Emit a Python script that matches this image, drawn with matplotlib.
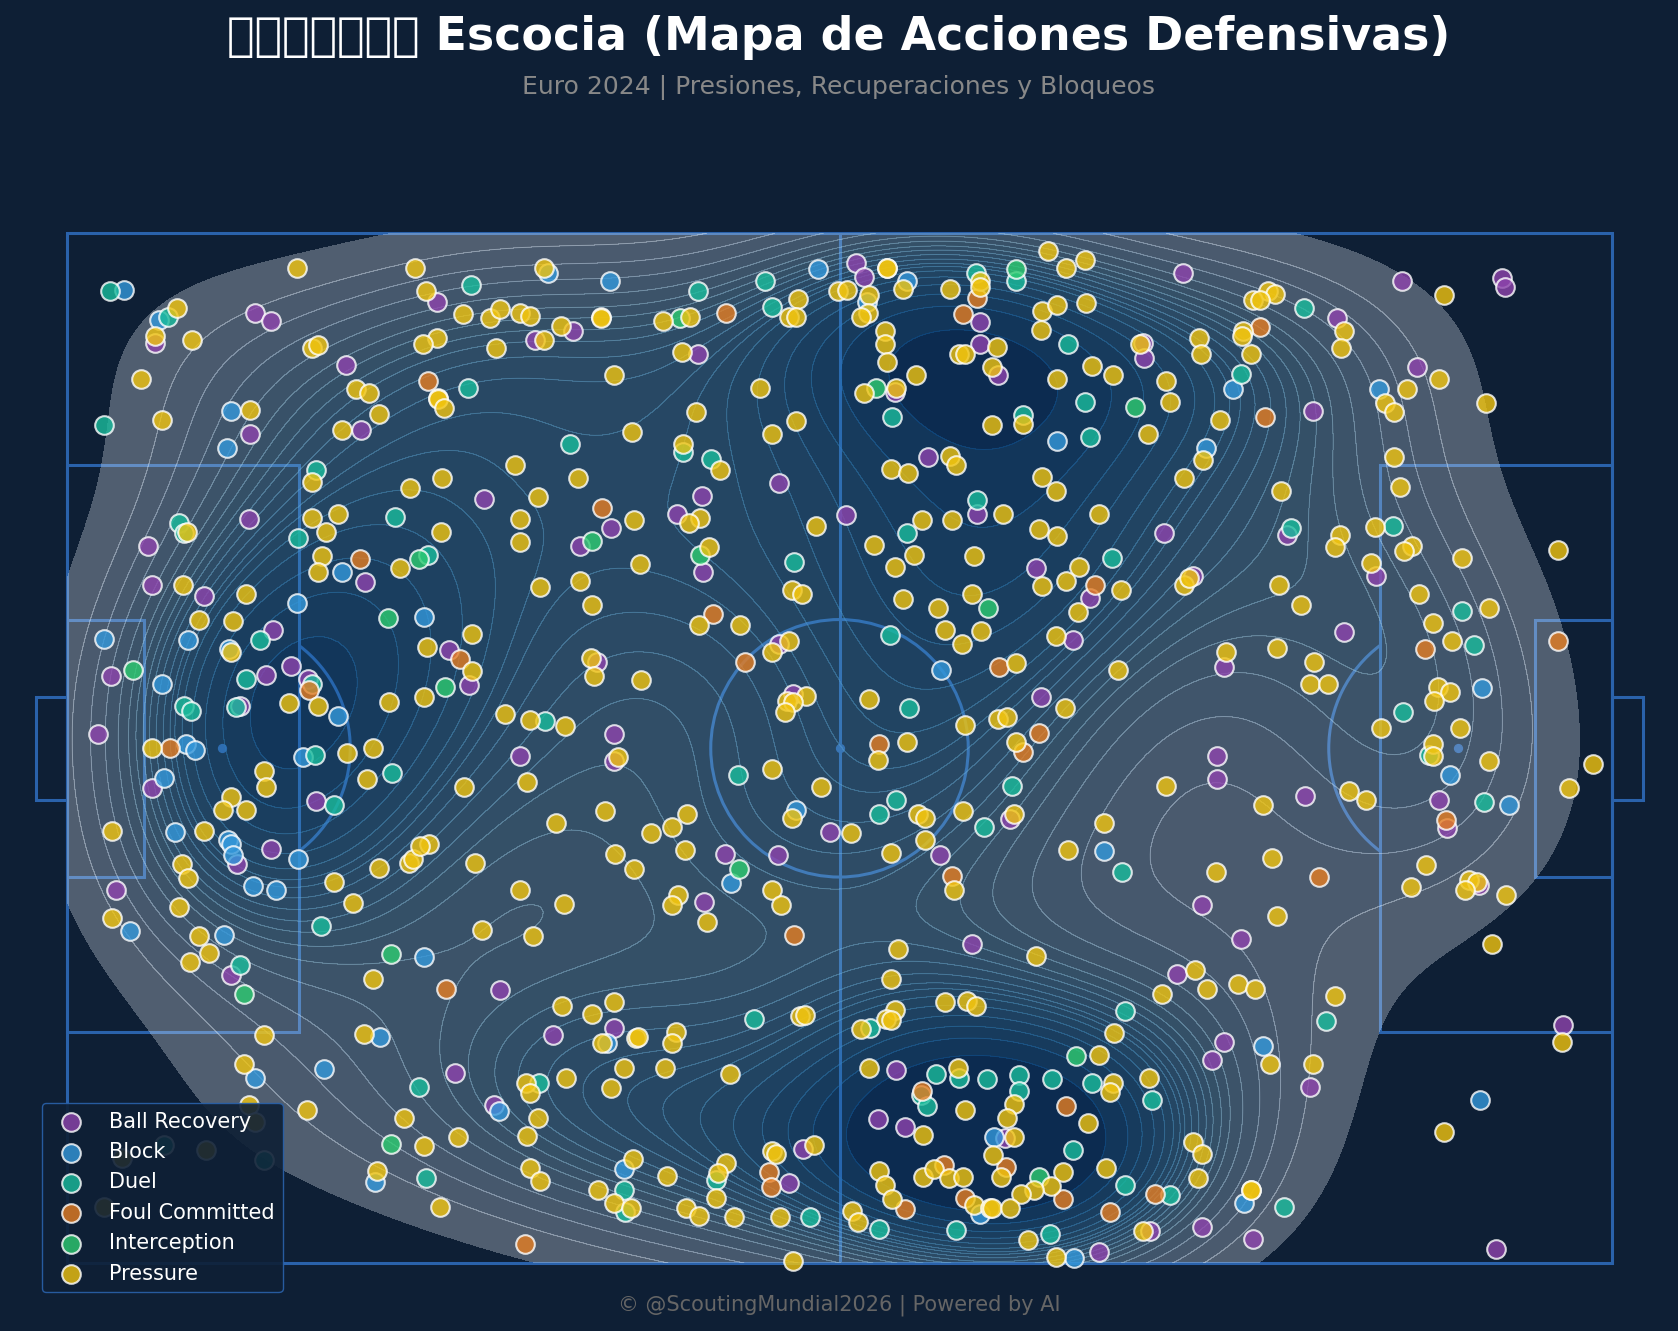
import numpy as np
import matplotlib
matplotlib.use("Agg")
import matplotlib.pyplot as plt
from matplotlib.patches import Arc, Circle, Rectangle

# defensive actions in pitch yards (120 x 80), x then y
ball_recovery = [(6.8,8.5),(14.6,6.2),(15.8,6.8),(28.7,5.3),(21.6,10.2),(22.8,15.3),(14.2,15.6),(36.3,8.3),(39.2,7.6),(48.9,9.4),
    (61.2,2.3),(61.8,3.4),(64.2,12.3),(70.8,6.9),(70.8,8.6),(72.2,11.0),(86.5,3.1),(83.4,8.5),(83.5,9.7),(103.5,3.7),
    (111.3,3.5),(111.5,4.2),(98.5,6.6),(104.7,10.4),(96.6,13.8),(66.8,17.4),(55.2,19.4),(49.2,20.4),(47.3,21.8),(42.2,22.9),
    (39.8,24.3),(32.3,20.6),(14.1,22.2),(6.3,24.3),(6.6,27.3),(10.6,28.2),(23.1,27.1),(16.0,30.8),(17.4,33.6),(15.4,34.3),
    (18.7,34.6),(13.4,36.7),(2.4,38.9),(3.4,34.4),(29.6,32.4),(31.2,35.1),(41.1,33.3),(49.3,26.3),(60.4,21.9),(70.6,21.8),
    (75.1,26.0),(79.3,28.3),(78.0,31.6),(85.1,23.3),(87.3,26.6),(94.6,23.4),(101.5,26.6),(99.0,31.0),(89.7,33.7),(75.5,36.0),
    (55.2,31.9),(56.3,35.8),(42.4,38.9),(42.4,41.0),(35.1,40.6),(89.2,40.6),(89.2,42.4),(96.0,43.7),(106.4,44.0),(107.0,46.2),
    (109.5,50.6),(73.1,45.5),(67.7,48.3),(59.2,46.5),(55.1,48.3),(51.0,48.2),(49.4,51.9),(6.6,43.1),(19.3,44.1),(15.8,47.8),
    (13.2,49.0),(3.8,51.0),(12.7,57.6),(33.6,58.8),(70.2,55.2),(91.0,54.8),(88.0,52.2),(86.1,57.5),(89.7,62.8),(88.8,64.2),
    (96.4,66.3),(116.0,61.5),(37.7,62.3),(42.4,61.7),(30.1,65.2),(33.1,67.7),(64.3,65.0),(62.9,68.8),(65.0,69.4),(57.1,71.1),
    (56.0,73.8),(72.7,70.3),(84.0,77.5),(88.0,77.2),(92.0,78.1),(80.0,79.1),(110.8,78.9)]

block = [(4.4,4.4),(7.1,6.7),(37.3,3.1),(42.1,3.7),(58.2,2.8),(65.1,3.7),(62.0,5.3),(12.7,13.8),(12.4,16.7),(21.3,26.3),
    (17.8,28.7),(27.7,29.8),(9.4,31.6),(12.6,32.3),(2.9,31.5),(7.4,35.0),(21.0,37.5),(18.3,40.7),(9.2,39.7),(9.9,40.1),
    (7.5,42.3),(8.4,46.5),(12.5,47.1),(12.7,47.4),(12.9,48.3),(17.9,48.6),(14.4,50.7),(16.2,51.0),(12.2,54.5),(4.9,54.2),
    (27.7,56.2),(24.3,62.4),(19.9,64.9),(14.6,65.6),(33.5,68.2),(23.9,73.7),(43.2,72.7),(67.8,33.9),(56.5,44.8),(51.5,50.5),
    (76.8,16.1),(80.4,48.0),(88.3,16.7),(90.4,12.1),(101.7,12.1),(109.7,35.3),(107.2,42.1),(111.8,44.4),(92.7,63.1),(109.6,67.3),
    (91.3,75.3),(78.1,79.6),(71.9,70.2),(70.8,76.2),(41.9,62.9)]

duel = [(3.3,4.5),(7.8,6.5),(31.3,4.0),(2.9,14.9),(31.1,12.0),(48.9,4.5),(54.1,3.7),(54.7,5.7),(70.5,3.1),(73.6,3.7),
    (64.0,14.3),(74.1,14.1),(78.9,13.1),(79.3,15.8),(77.6,8.6),(47.8,17.0),(49.9,17.5),(39.0,16.4),(56.4,25.5),(70.6,20.7),
    (65.1,23.3),(81.0,25.2),(95.9,5.8),(91.0,10.9),(94.9,22.9),(102.8,22.7),(108.2,29.3),(19.3,18.4),(8.7,22.5),(9.1,23.3),
    (17.9,23.7),(25.4,22.0),(28.0,25.0),(15.0,31.6),(13.9,34.6),(9.1,36.7),(9.6,37.1),(13.1,36.8),(19.0,35.0),(19.2,40.5),
    (25.2,41.9),(20.7,44.4),(37.1,37.9),(63.8,31.2),(65.3,36.9),(52.0,42.1),(64.3,44.0),(63.0,45.1),(73.3,42.9),(71.1,46.1),
    (109.1,32.0),(103.6,37.2),(105.6,40.5),(109.9,44.2),(81.8,49.6),(13.4,56.8),(19.7,53.8),(27.3,66.3),(27.8,73.4),(36.6,66.0),
    (7.5,70.8),(15.3,72.0),(53.3,61.0),(62.3,61.7),(43.2,74.3),(43.3,76.0),(50.3,73.5),(57.6,76.4),(63.0,77.3),(68.9,77.4),
    (76.2,77.7),(67.4,65.3),(69.2,65.6),(71.3,65.7),(73.8,65.4),(73.8,66.6),(76.4,65.7),(79.5,66.0),(66.2,66.9),(66.7,67.8),
    (78.0,71.2),(82.0,60.4),(82.0,73.9),(85.5,74.7),(84.1,67.3),(97.6,61.2),(94.4,75.6)]

foul_committed = [(28.0,11.5),(51.1,6.2),(70.6,5.0),(69.5,6.3),(41.5,21.3),(79.7,27.3),(50.1,29.6),(92.5,7.3),(92.9,14.3),(22.7,25.3),
    (18.8,35.5),(30.5,33.1),(8.0,40.0),(52.6,33.3),(72.3,33.7),(63.0,39.7),(75.4,38.8),(74.1,40.3),(68.6,49.9),(56.4,54.5),
    (105.3,32.3),(115.6,31.7),(106.9,45.6),(97.1,50.0),(29.4,58.7),(35.5,78.5),(66.3,66.6),(77.5,67.8),(68.0,72.4),(72.8,72.5),
    (65.0,75.8),(69.6,74.9),(77.2,75.0),(80.9,76.0),(54.4,72.9),(54.6,74.1),(84.4,74.6)]

interception = [(73.6,2.8),(47.5,6.6),(62.7,12.0),(71.4,29.1),(40.7,23.9),(49.1,25.0),(82.8,13.5),(27.3,25.3),(5.1,33.9),(24.9,29.9),
    (29.3,35.2),(52.1,49.4),(13.7,59.1),(25.1,56.0),(25.1,70.7),(78.2,63.9),(75.4,73.3)]

pressure = [(17.8,2.7),(27.0,2.7),(27.8,4.5),(37.0,2.7),(8.5,5.8),(6.8,8.0),(9.7,8.3),(5.7,11.3),(7.4,14.5),(14.2,13.7),
    (19.0,8.9),(19.5,8.7),(28.7,8.1),(27.6,8.6),(22.4,12.1),(23.4,12.4),(24.2,14.0),(21.3,15.3),(30.7,6.3),(32.8,6.6),
    (33.6,5.9),(35.1,6.2),(35.9,6.4),(33.3,8.9),(37.0,8.3),(28.8,12.8),(28.8,12.9),(29.2,13.6),(38.3,7.2),(41.4,6.5),
    (41.4,6.6),(46.2,6.8),(48.3,6.5),(47.7,9.2),(42.4,11.0),(56.7,5.1),(56.0,6.5),(56.5,6.5),(59.8,4.5),(60.5,4.4),
    (62.2,4.8),(62.1,6.2),(61.6,6.5),(64.8,4.3),(63.6,2.7),(63.6,2.7),(68.5,4.3),(70.8,3.7),(70.8,4.2),(76.1,1.4),
    (77.5,2.7),(78.9,2.1),(75.6,6.0),(76.8,5.6),(79.0,5.4),(75.5,7.5),(63.4,7.6),(63.4,8.6),(63.6,10.0),(65.8,11.0),
    (61.8,12.4),(64.3,12.0),(69.2,9.4),(69.6,9.4),(72.1,8.8),(71.7,10.4),(53.7,12.0),(48.8,13.9),(43.8,15.4),(47.8,16.4),
    (56.5,14.6),(54.7,15.6),(76.8,11.3),(79.5,10.3),(81.1,11.0),(71.7,14.9),(74.1,14.8),(63.9,18.3),(65.2,18.6),(68.5,17.3),
    (68.9,18.0),(75.6,18.9),(76.7,20.0),(39.6,19.0),(50.6,18.4),(44.0,22.3),(49.1,22.1),(48.2,22.5),(58.1,22.7),(66.3,22.3),
    (68.6,22.3),(72.6,21.8),(80.0,21.8),(75.4,23.0),(76.8,23.5),(62.6,24.2),(65.7,25.0),(64.2,25.9),(70.3,25.1),(49.8,24.4),
    (44.4,25.7),(39.8,27.0),(40.7,28.9),(56.2,27.7),(57.0,28.0),(64.8,28.4),(67.5,29.1),(70.2,28.0),(78.5,25.9),(77.5,27.0),
    (75.6,27.4),(81.7,27.7),(78.4,29.4),(49.0,30.4),(52.2,30.4),(56.0,31.7),(54.7,32.5),(68.1,30.8),(69.4,31.9),(70.9,30.9),
    (76.7,31.3),(62.2,36.2),(73.6,33.4),(40.6,33.0),(40.9,34.4),(44.5,34.7),(57.3,35.9),(55.8,36.3),(56.3,36.4),(55.7,37.2),
    (69.6,38.2),(72.2,37.7),(72.9,37.6),(77.4,36.9),(81.5,33.9),(65.1,39.5),(62.9,40.9),(73.6,39.5),(38.6,38.3),(42.7,40.7),
    (54.7,41.6),(58.5,43.0),(56.2,45.4),(69.5,44.9),(66.0,45.1),(66.5,45.4),(73.4,45.1),(66.5,47.1),(60.8,46.6),(63.9,48.1),
    (41.7,44.9),(48.1,45.1),(46.9,46.1),(45.3,46.6),(42.5,48.2),(47.9,47.9),(44.0,49.4),(54.7,51.0),(55.4,52.2),(47.4,51.4),
    (46.9,52.2),(49.6,53.5),(38.5,52.1),(68.8,51.0),(64.4,55.6),(75.1,56.1),(63.9,57.9),(37.9,45.8),(93.1,4.5),(93.7,4.7),
    (92.0,5.2),(92.5,5.2),(106.8,4.8),(87.8,8.1),(91.2,7.6),(91.1,8.0),(87.9,9.4),(91.8,9.4),(99.0,7.6),(98.8,8.9),
    (83.2,8.6),(85.2,11.5),(85.5,13.1),(103.9,12.1),(106.4,11.3),(102.2,13.2),(102.9,13.9),(110.0,13.2),(89.4,14.5),(83.8,15.6),
    (88.1,17.6),(86.6,19.0),(102.9,17.4),(103.4,19.7),(94.1,20.0),(101.4,22.8),(98.7,23.4),(98.3,24.4),(104.3,24.3),(103.7,24.7),
    (101.1,25.6),(108.2,25.2),(115.6,24.6),(94.0,27.3),(95.7,28.9),(86.6,27.3),(87.0,26.8),(104.8,28.0),(110.3,29.1),(105.9,30.3),
    (107.4,31.7),(89.9,32.5),(93.8,32.2),(96.7,33.3),(96.4,35.0),(97.8,35.0),(106.3,35.2),(107.2,35.6),(106.0,36.3),(101.9,38.4),
    (108.0,38.4),(105.9,39.7),(105.9,40.6),(110.3,41.0),(118.3,41.2),(116.5,43.1),(85.2,42.9),(92.7,44.4),(99.4,43.3),(100.7,44.0),
    (93.4,48.5),(105.4,49.1),(89.1,49.6),(104.2,50.8),(108.7,50.2),(109.3,50.4),(108.4,51.0),(111.6,51.4),(93.8,53.0),(110.5,55.2),
    (80.4,45.8),(77.6,47.9),(84.9,59.1),(87.5,57.2),(88.4,58.7),(90.8,58.3),(92.1,58.7),(98.3,59.2),(115.9,62.8),(96.6,64.5),
    (93.3,64.5),(83.9,65.6),(106.8,69.8),(87.3,70.6),(88.0,71.5),(87.7,73.4),(91.8,74.3),(91.8,74.3),(83.4,77.5),(38.4,60.0),
    (40.7,60.6),(42.4,59.7),(41.5,62.9),(44.1,62.5),(44.3,62.4),(47.2,62.0),(46.9,62.9),(43.2,64.8),(46.4,64.8),(51.4,65.3),
    (38.7,65.6),(42.2,66.4),(56.8,60.8),(57.2,60.7),(61.6,61.8),(64.2,60.3),(63.5,61.0),(63.9,61.1),(68.1,59.7),(69.8,59.6),
    (70.5,60.0),(62.2,64.8),(69.1,64.8),(81.2,62.1),(80.0,63.8),(81.1,66.0),(80.9,66.7),(73.4,67.6),(72.9,68.7),(69.6,68.1),
    (66.4,70.0),(79.2,69.1),(73.4,70.2),(71.8,71.6),(77.2,72.9),(72.4,73.3),(63.0,72.8),(63.4,73.9),(66.4,73.3),(67.2,72.7),
    (68.4,73.4),(69.5,73.3),(64.0,75.0),(76.3,74.0),(75.0,74.3),(74.0,74.6),(70.3,75.5),(71.6,75.7),(71.7,75.7),(73.1,75.7),
    (80.6,72.6),(60.9,75.9),(61.3,76.8),(74.5,78.2),(76.7,79.5),(43.9,71.9),(46.5,73.2),(41.2,74.3),(42.4,75.3),(43.7,75.7),
    (51.1,72.2),(50.5,73.0),(50.3,74.9),(48.0,75.7),(49.0,76.3),(51.7,76.4),(55.3,76.4),(54.7,71.3),(55.0,71.5),(57.9,70.8),
    (56.3,79.8),(8.9,49.0),(9.4,50.1),(8.7,52.3),(3.5,53.2),(10.2,54.6),(11.0,55.9),(9.5,56.6),(15.3,62.3),(13.7,64.5),
    (18.6,68.1),(20.7,50.4),(22.2,52.0),(24.2,49.3),(26.5,48.9),(26.8,48.6),(31.6,48.9),(23.7,57.9),(35.1,51.0),(32.2,54.1),
    (36.1,54.6),(23.0,62.2),(26.1,68.7),(27.7,70.9),(30.3,70.2),(24.0,72.8),(28.9,75.6),(35.6,66.0),(35.9,66.8),(36.5,68.7),
    (35.7,70.1),(35.9,72.6),(36.7,73.6),(14.1,67.7),(14.6,69.0),(4.3,71.8),(10.8,71.2),(2.9,75.6),(19.0,19.3),(26.6,19.8),
    (29.1,19.0),(34.7,18.0),(36.5,20.5),(19.0,22.1),(21.0,21.8),(20.1,23.2),(29.0,23.2),(35.1,22.2),(35.1,24.0),(19.8,25.1),
    (19.5,26.3),(25.8,26.0),(36.7,27.5),(9.3,23.2),(9.0,27.3),(13.9,28.0),(10.2,30.0),(12.9,30.1),(12.7,32.5),(31.4,31.1),
    (27.9,32.1),(31.4,34.0),(27.7,36.0),(25.0,36.4),(17.2,36.5),(19.5,36.7),(34.0,37.3),(35.9,37.8),(6.6,40.0),(21.7,40.4),
    (23.7,40.0),(23.3,42.4),(15.3,41.8),(15.4,43.0),(30.8,43.0),(35.7,42.6),(12.7,43.8),(12.1,44.8),(13.9,44.8),(3.5,46.4),
    (10.6,46.4),(28.1,47.4),(27.4,47.6)]

event_names = ["Ball Recovery", "Block", "Duel", "Foul Committed", "Interception", "Pressure"]
event_points = [ball_recovery, block, duel, foul_committed, interception, pressure]
event_colors = ["#8e44ad", "#3498db", "#1abc9c", "#e67e22", "#2ecc71", "#f1c40f"]

bg = "#0e1f35"
line_col = "#2a62ab"
# event x values run to 119.8, stretch them onto the 120 yard pitch
x_stretch = 120 / 119.8


def kde_grid(pts, bw_adjust=1.0, gridsize=200):
    # gaussian kde (scott rule), evaluated on the pitch only
    pts = np.asarray(pts, dtype=float)
    n = pts.shape[0]
    factor = n ** (-1.0 / 6.0) * bw_adjust
    inv = np.linalg.inv(np.cov(pts.T) * factor ** 2)
    gx = np.linspace(0, 120, gridsize)
    gy = np.linspace(0, 80, gridsize)
    xx, yy = np.meshgrid(gx, gy)
    dens = np.zeros(xx.shape)
    for p in pts:
        dx = xx - p[0]
        dy = yy - p[1]
        dens += np.exp(-0.5 * (inv[0, 0] * dx * dx + 2 * inv[0, 1] * dx * dy + inv[1, 1] * dy * dy))
    return gx, gy, dens


def iso_levels(dens, props):
    # density values that leave the given share of the mass below them
    vals = np.sort(dens.ravel())[::-1]
    cum = np.cumsum(vals) / vals.sum()
    idx = np.searchsorted(cum, 1 - np.asarray(props))
    return np.unique(np.take(vals, idx, mode="clip"))


def draw_pitch(ax):
    kw = dict(fill=False, edgecolor=line_col, linewidth=2.2, clip_on=False, zorder=1)
    ax.add_patch(Rectangle((0, 0), 120, 80, **kw))
    ax.plot([60, 60], [0, 80], color=line_col, linewidth=2.2, zorder=1)
    ax.add_patch(Circle((60, 40), 10, **kw))
    ax.scatter([12, 60, 108], [40, 40, 40], s=32, color=line_col, zorder=1)
    for x0, w18, w6, goal in [(0, 18, 6, -2.4), (120, -18, -6, 2.4)]:
        ax.add_patch(Rectangle((x0, 18), w18, 44, **kw))
        ax.add_patch(Rectangle((x0, 30), w6, 20, **kw))
        ax.add_patch(Rectangle((x0, 36), goal, 8, **kw))
    ax.add_patch(Arc((12, 40), 20, 20, theta1=-53, theta2=53, edgecolor=line_col, linewidth=2.2, zorder=1))
    ax.add_patch(Arc((108, 40), 20, 20, theta1=127, theta2=233, edgecolor=line_col, linewidth=2.2, zorder=1))


fig = plt.figure(figsize=(16.78, 13.31), dpi=100, facecolor=bg)
ax = fig.add_axes([67 / 1678, 1 - 1263.3 / 1331, 1545 / 1678, 1030 / 1331])
ax.set_facecolor(bg)
ax.set_xlim(0, 120)
ax.set_ylim(80, 0)
ax.axis("off")

draw_pitch(ax)

all_points = np.vstack([np.array(p) for p in event_points]) * [x_stretch, 1]
gx, gy, dens = kde_grid(all_points)
levels = iso_levels(dens, np.linspace(0.05, 1, 20))
norm = matplotlib.colors.Normalize(levels[0], levels[-1])
ax.contourf(gx, gy, dens, levels=levels, cmap="Blues", norm=norm, alpha=0.3, zorder=2)
# no line round the outermost band
ax.contour(gx, gy, dens, levels=levels[1:], cmap="Blues", norm=norm, alpha=0.25, linewidths=0.7, zorder=2)

for name, pts, col in zip(event_names, event_points, event_colors):
    pts = np.array(pts) * [x_stretch, 1]
    ax.scatter(pts[:, 0], pts[:, 1], s=180, color=col, alpha=0.8, edgecolors="white",
               linewidths=1.5, label=name, zorder=3, clip_on=False)

leg = ax.legend(loc="lower left", bbox_to_anchor=(42 / 1678, 1 - 1292 / 1331), bbox_transform=fig.transFigure,
                borderaxespad=0, fontsize=15, labelcolor="white", facecolor=bg, edgecolor=line_col,
                framealpha=0.9, labelspacing=0.5, handletextpad=0.8)
leg.set_zorder(5)

# seven flag codepoints, the font draws them as empty boxes
title = "\U0001F3F4\U000E0067\U000E0062\U000E0073\U000E0063\U000E0074\U000E007F Escocia (Mapa de Acciones Defensivas)"
fig.text(0.5, 1 - 37 / 1331, title, color="white", fontsize=33, fontweight="bold", ha="center", va="center")
fig.text(0.5, 1 - 88 / 1331, "Euro 2024 | Presiones, Recuperaciones y Bloqueos", color="#888888", fontsize=18,
         ha="center", va="center")
fig.text(0.5, 1 - 1305 / 1331, "\u00a9 @ScoutingMundial2026 | Powered by AI", color="#666666", fontsize=15,
         ha="center", va="center")

fig.savefig("out.png", dpi=100, facecolor=bg)
